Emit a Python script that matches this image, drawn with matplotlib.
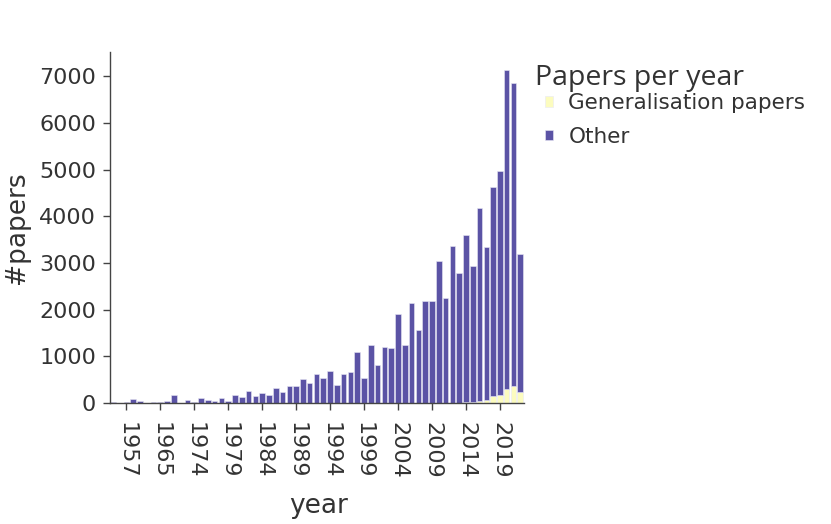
import numpy as np
import matplotlib
matplotlib.use("Agg")
import matplotlib.pyplot as plt

# years shown as categories (early years are sparse)
years = [1952, 1954, 1957, 1958, 1960, 1961, 1963, 1965, 1967, 1968, 1970, 1972] + list(range(1974, 2023))

total = [15, 3, 12, 75, 35, 3, 25, 20, 40, 170, 8, 60,
         15, 107, 64, 36, 100, 50, 179, 122, 250, 143,
         222, 164, 315, 229, 372, 372, 505, 425, 615, 544,
         694, 379, 615, 658, 1087, 529, 1245, 808, 1209, 1173,
         1910, 1252, 2139, 1574, 2189, 2196, 3047, 2260, 3362, 2790,
         3605, 2933, 4185, 3350, 4621, 4964, 7124, 6860, 3200]

gen_papers = [0] * 48 + [5, 5, 8, 8, 12, 20, 36, 72, 155, 180, 305, 362, 240]

total = np.array(total)
gen_papers = np.array(gen_papers)
other = total - gen_papers

purple = "#5b53a5"
yellow = "#fcfcbf"
axis_col = "#444444"
text_col = "#333333"

fig = plt.figure(figsize=(8.31, 5.24), dpi=100)
ax = fig.add_axes([110 / 831, 1 - 403 / 524, 414 / 831, 351 / 524])

x = np.arange(len(years))
ax.bar(x, gen_papers, width=0.82, color=yellow, edgecolor="#e8e8f4", linewidth=0.4,
       label="Generalisation papers")
ax.bar(x, other, width=0.82, bottom=gen_papers, color=purple, edgecolor="#e8e8f4",
       linewidth=0.4, label="Other")

ax.set_xlim(-0.4, len(years) - 0.45)
ax.set_ylim(0, 7520)
ax.set_yticks(range(0, 8000, 1000))
ticks = list(range(2, len(years), 5))
ax.set_xticks(ticks)
ax.set_xticklabels([str(years[i]) for i in ticks], rotation=-90, va="top")

for s in ["top", "right"]:
    ax.spines[s].set_visible(False)
for s in ["left", "bottom"]:
    ax.spines[s].set_color(axis_col)
    ax.spines[s].set_linewidth(1.0)

ax.tick_params(axis="both", colors=axis_col, labelcolor=text_col, labelsize=16,
               length=5, width=1, direction="out")
ax.tick_params(axis="x", pad=9)
ax.tick_params(axis="y", pad=5)

ax.set_xlabel("year", fontsize=19, color=text_col)
ax.set_ylabel("#papers", fontsize=19, color=text_col)
ax.xaxis.set_label_coords(0.503, -0.257)
ax.yaxis.set_label_coords(-0.193, 0.5)

# legend: title drawn separately so the handles sit indented under it
fig.text(535 / 831, 1 - 78 / 524, "Papers per year", fontsize=20.5, family="Open Sans",
         color=text_col, va="center", ha="left")
leg = ax.legend(loc="upper left", bbox_to_anchor=(545 / 831, 1 - 93 / 524),
                bbox_transform=fig.transFigure, frameon=False, fontsize=15.5,
                handlelength=0.38, handleheight=0.38, handletextpad=0.7,
                labelspacing=0.64, borderaxespad=0, borderpad=0)
for t in leg.get_texts():
    t.set_color(text_col)

fig.savefig("out.png", dpi=100)
